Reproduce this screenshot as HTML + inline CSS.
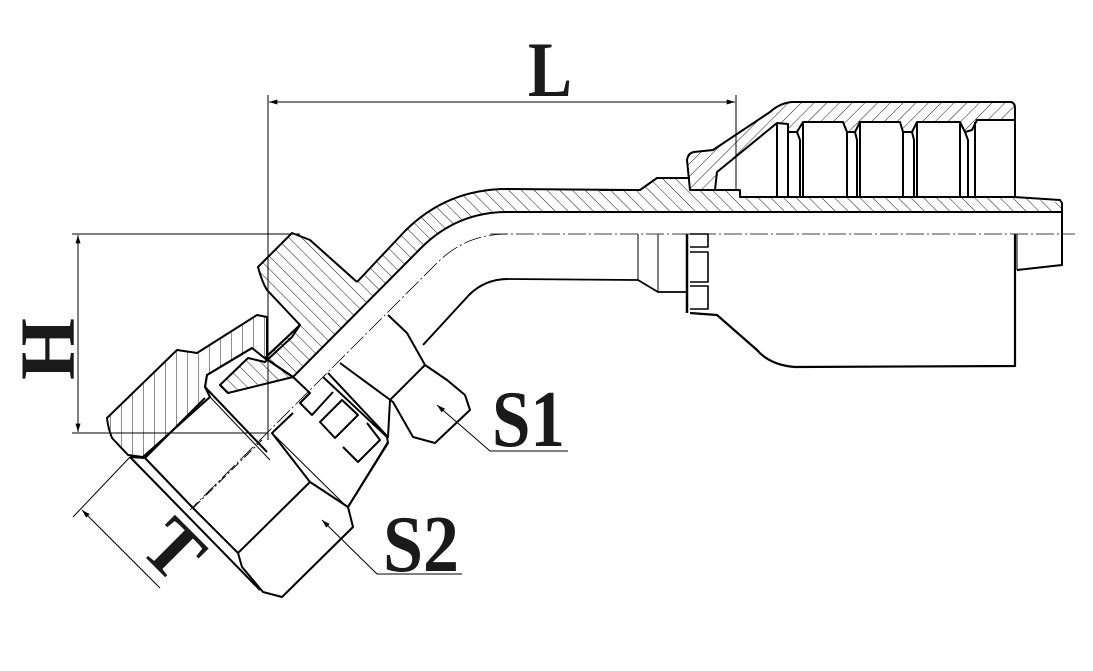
<!DOCTYPE html>
<html><head><meta charset="utf-8"><style>
html,body{margin:0;padding:0;background:#fff;}
svg{display:block;}
.t{font-family:"Liberation Serif",serif;font-weight:bold;fill:#1a1a1a;}
</style></head><body>
<svg width="1093" height="671" viewBox="0 0 1093 671" xmlns="http://www.w3.org/2000/svg">
<defs>
<pattern id="hb" patternUnits="userSpaceOnUse" width="9" height="9" patternTransform="rotate(-45)"><line x1="0" y1="0" x2="0" y2="9" stroke="#000" stroke-width="0.9"/></pattern>
<pattern id="hf" patternUnits="userSpaceOnUse" width="9" height="9" patternTransform="rotate(45)"><line x1="0" y1="0" x2="0" y2="9" stroke="#000" stroke-width="0.9"/></pattern>
<pattern id="hv" patternUnits="userSpaceOnUse" width="11" height="11"><line x1="0" y1="0" x2="0" y2="11" stroke="#000" stroke-width="0.9"/></pattern>
<marker id="ar" viewBox="0 0 10 6" refX="10" refY="3" markerWidth="14" markerHeight="5" orient="auto-start-reverse" markerUnits="userSpaceOnUse"><path d="M0,0 L10,3 L0,6 z" fill="#000"/></marker>
</defs>
<g fill="none" stroke="#000" stroke-linejoin="round">
<line x1="268" y1="95" x2="268" y2="440" stroke-width="1"/>
<line x1="736" y1="95" x2="736" y2="190" stroke-width="1"/>
<line x1="269" y1="102" x2="735" y2="102" stroke-width="1" marker-start="url(#ar)" marker-end="url(#ar)"/>
<line x1="72" y1="234" x2="300" y2="234" stroke-width="1"/>
<line x1="72" y1="433" x2="268" y2="433" stroke-width="1"/>
<line x1="78" y1="235" x2="78" y2="432" stroke-width="1" marker-start="url(#ar)" marker-end="url(#ar)"/>
<path d="M490 234 L1075 234" stroke-width="0.8" stroke-dasharray="18 3 2 3"/>
<path d="M507 234 Q466 234 437 263 L190 510" stroke-width="0.8" stroke-dasharray="18 3 2 3"/>

<path d="M640 190 L507 189 Q447 189 405 231 L357 282 L310 240 L292 233 L258 267 L267 290 L300 325 L265 358 L293 377 L421 248 Q457 212 507 212 L1062 212 L1062 203 L1015 197 L740 197 L740 190 L715 190 L690 190 L687 178 L657 178 Z" fill="url(#hb)" stroke="none"/>
<path d="M640 190 L507 189 Q447 189 405 231 L357 282" stroke-width="2"/>
<path d="M293 377 L421 248 Q457 212 507 212 L1062 212" stroke-width="2"/>
<path d="M600 190 L640 190 L657 178 L690 178" stroke-width="2"/>
<path d="M715 190 L740 190 L740 197 L1015 197 L1060 200 L1062 203 L1062 265 L1017 270" stroke-width="2"/>
<path d="M357 282 L310 240 L292 233 L258 267 Q262 282 267 290 L300 325 L265 358 L293 377" stroke-width="2"/>

<path d="M690 190 L687 160 Q688 153 694 152 L713 150 L770 112 Q780 103 792 102 L1011 102 Q1015 103 1015 108 L1015 120 L977 120 L972 130 L965 132 L960 122 L917 122 L912 132 L903 132 L900 122 L860 122 L855 132 L847 132 L843 122 L803 122 L797 132 L788 132 L788 124 L777 123 L717 172 L715 190 Z" fill="url(#hf)" stroke="#000" stroke-width="2"/>
<g stroke-width="2">
<path d="M777 123 L777 197 M788 124 L788 197"/>
<path d="M797 132 L800 140 L800 197 M803 122 L803 197"/>
<path d="M847 132 L847 197 M855 132 L857 140 L857 197 M860 122 L860 197"/>
<path d="M903 132 L903 197 M912 132 L914 140 L914 197 M917 122 L917 197"/>
<path d="M960 122 L960 197 M965 132 L968 140 L968 197 M975 122 L975 197"/>
<path d="M1015 120 L1015 197"/>
</g>
<path d="M1015 234 L1015 366 L795 367 Q770 365 757 350 L717 315 L690 313" stroke-width="2.2"/>
<path d="M687 234 L687 313" stroke-width="2.5"/>
<path d="M690 234 L708 234 L708 247 L690 247 M690 252 L708 252 L708 282 L690 282 M690 286 L708 286 L708 309 L690 309" stroke-width="1.6"/>
<path d="M638 234 L638 280 M658 234 L658 292" stroke-width="1"/>
<path d="M508 279 L638 280 L658 292 L687 292" stroke-width="1.8"/>
<path d="M508 279 Q485 279 469 295 L423 345" stroke-width="2"/>
<path d="M1017 234 L1017 270" stroke-width="1"/>

<path d="M388 315 L407 333 L425 365 L447 380 L465 395 L470 410 L435 443 L413 437 L393 402 L340 363" stroke-width="2"/>
<path d="M425 365 L390 400" stroke-width="2"/>
<path d="M293 377 L310 393 L300 403 L312 415 L333 392" stroke-width="2"/>
<path d="M323 377 L387 437 L388 443 M328 373 L388 437 L390 400" stroke-width="2"/>
<path d="M320 422 L335 438 L358 415 L342 400 Z" stroke-width="2"/>
<path d="M343 447 L358 462 L380 440 L367 423" stroke-width="2"/>
<path d="M388 442 L388 443 L348 507" stroke-width="2"/>

<path d="M107 418 L177 350 L197 353 L257 315 L267 317 L267 360 L252 348 L207 375 L205 387 L210 397 L143 457 L128 455 L112 438 Q108 428 107 418 Z" fill="url(#hv)" stroke="#000" stroke-width="2"/>
<path d="M220 385 L248 358 L265 362 L292 337 L300 325 L265 358 L293 377 L228 393 Z" fill="url(#hb)" stroke="#000" stroke-width="2"/>
<path d="M252 348 L207 375 L205 387 L267 452" stroke-width="2"/>
<path d="M220 385 L228 393" stroke-width="2"/>
<path d="M210 397 L270 460" stroke-width="1"/>
<path d="M130 457 L145 458 L193 508 L238 553 L242 567 L263 592 L282 597 L353 527 L348 507 L310 482 L272 433 L293 413" stroke-width="2"/>
<path d="M130 457 L260 590" stroke-width="2"/>
<path d="M238 553 L310 482" stroke-width="2"/>
<path d="M348 507 L388 442" stroke-width="2"/>
<path d="M145 458 L205 398" stroke-width="2"/>
<path d="M193 508 L262 440" stroke-width="1" stroke-dasharray="10 3 2 3"/>
<path d="M272 433 L345 505" stroke-width="1"/>

<line x1="130" y1="457" x2="73" y2="517" stroke-width="1"/>
<line x1="82" y1="510" x2="160" y2="588" stroke-width="1" marker-start="url(#ar)"/>
<path d="M437 405 L490 451 L568 451" stroke-width="1" marker-start="url(#ar)"/>
<path d="M322 520 L377 574 L462 574" stroke-width="1" marker-start="url(#ar)"/>
</g>
<text class="t" x="528" y="96" font-size="78" textLength="44" lengthAdjust="spacingAndGlyphs">L</text>
<text class="t" x="492" y="446" font-size="80" textLength="73" lengthAdjust="spacingAndGlyphs">S1</text>
<text class="t" x="383" y="571" font-size="80" textLength="76" lengthAdjust="spacingAndGlyphs">S2</text>
<text class="t" transform="translate(74,380) rotate(-90)" font-size="78" textLength="62" lengthAdjust="spacingAndGlyphs">H</text>
<text class="t" transform="translate(138,550) rotate(45)" font-size="78" textLength="50" lengthAdjust="spacingAndGlyphs">T</text>
</svg>
</body></html>
